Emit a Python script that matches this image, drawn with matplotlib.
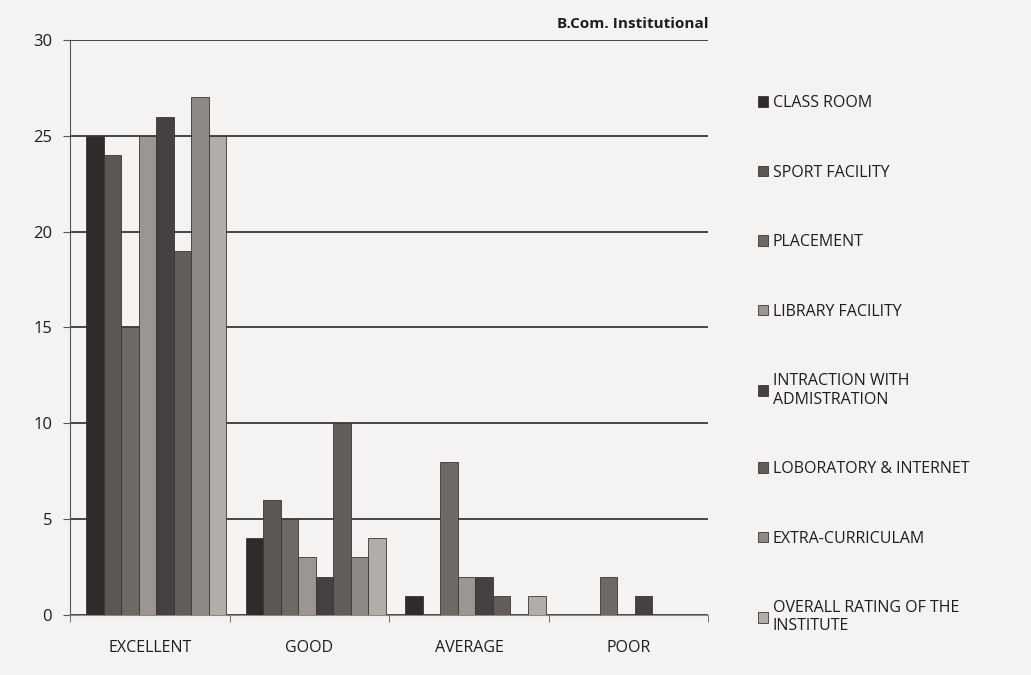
import numpy as np
import matplotlib.pyplot as plt
from matplotlib.patches import Patch

plt.rcParams['font.family'] = ['Open Sans', 'DejaVu Sans']

# ratings on the x axis
ratings = ["EXCELLENT", "GOOD", "AVERAGE", "POOR"]

# one list per facility (excellent, good, average, poor)
class_room = [25, 4, 1, 0]
sport_facility = [24, 6, 0, 0]
placement = [15, 5, 8, 2]
library_facility = [25, 3, 2, 0]
intraction_admin = [26, 2, 2, 1]
laboratory = [19, 10, 1, 0]
extra_curriculam = [27, 3, 0, 0]
overall_rating = [25, 4, 1, 0]

series_names = ["CLASS ROOM", "SPORT FACILITY", "PLACEMENT", "LIBRARY FACILITY",
                "INTRACTION WITH\nADMISTRATION", "LOBORATORY & INTERNET",
                "EXTRA-CURRICULAM", "OVERALL RATING OF THE\nINSTITUTE"]
series = [class_room, sport_facility, placement, library_facility,
          intraction_admin, laboratory, extra_curriculam, overall_rating]

# grey shades, like the printed copy
colors = ["#2f2b2a", "#5c5654", "#6f6966", "#9c9692",
          "#464141", "#625c5a", "#8f8985", "#b3ada9"]

fig = plt.figure(figsize=(10.31, 6.75), dpi=100)
fig.patch.set_facecolor("#f4f3f1")
ax = fig.add_axes([0.068, 0.089, 0.619, 0.852])
ax.set_facecolor("#f4f3f1")

x = np.arange(len(ratings))
w = 0.11
for i, (vals, c) in enumerate(zip(series, colors)):
    ax.bar(x + 0.04 + (i - 3.5) * w, vals, width=w, color=c, edgecolor="#3a3635",
           linewidth=0.6, label=series_names[i], zorder=3)

ax.set_ylim(0, 30)
ax.set_xlim(-0.5, 3.5)
ax.set_yticks(range(0, 31, 5))
ax.yaxis.grid(True, color="#2a2a2a", linewidth=1.2, zorder=1)
ax.set_xticks(x)
ax.set_xticklabels(ratings, fontsize=11.5, color="#1e1e1e")
ax.set_xticks(np.arange(-0.5, 4, 1), minor=True)
ax.tick_params(axis="x", which="major", length=0, pad=18)
ax.tick_params(axis="x", which="minor", length=5, color="#555555")
ax.tick_params(axis="y", labelsize=12, length=5, color="#555555", labelcolor="#1e1e1e", pad=8)
for s in ["top", "right"]:
    ax.spines[s].set_visible(False)
ax.spines["left"].set_color("#555555")
ax.spines["bottom"].set_color("#888888")

ax.text(1.0, 1.015, "B.Com. Institutional", transform=ax.transAxes, ha="right",
        va="bottom", fontsize=11, fontweight="bold", color="#1e1e1e")

handles = [Patch(facecolor=c, edgecolor="#3a3635", linewidth=0.6) for c in colors]
leg = ax.legend(handles, series_names, loc="center left", bbox_to_anchor=(1.055, 0.435),
                frameon=False, fontsize=11.5, handlelength=0.65, handleheight=0.65,
                handletextpad=0.3, labelspacing=3.35, labelcolor="#1e1e1e")

fig.savefig("out.png", dpi=100, facecolor=fig.get_facecolor())
